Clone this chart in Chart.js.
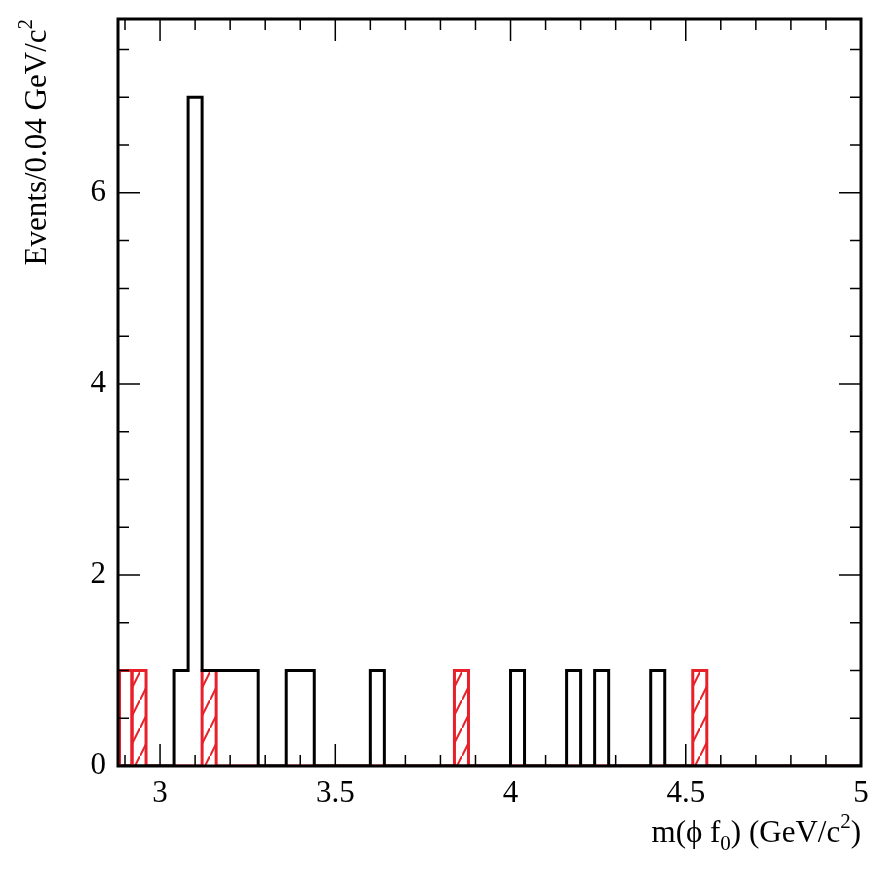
<!DOCTYPE html>
<html><head><meta charset="utf-8">
<script src="https://cdn.jsdelivr.net/npm/chart.js@4"></script>
<style>html,body{margin:0;padding:0;background:#fff}#w{width:885px;height:885px}</style>
</head><body><div id="w"><canvas id="c"></canvas></div>
<script>
const xMin = 2.88, xMax = 5.0, binWidth = 0.04;
const blackBinStarts = [3.04, 3.08, 3.12, 3.16, 3.20, 3.24, 3.36, 3.40, 3.60, 4.00, 4.16, 4.24, 4.40];
const blackCounts    = [1,    7,    1,    1,    1,    1,    1,    1,    1,    1,    1,    1,    1];
const redBinStarts = [2.92, 3.12, 3.84, 4.52];
const redCounts    = [1,    1,    1,    1];
const redEdgeBinStarts = [2.88];
const redEdgeCounts = [1];
const yTicks = [0, 2, 4, 6];
const xTicks = [3, 3.5, 4, 4.5, 5];

function steps(starts, counts){
  const pts = [];
  const n = Math.round((xMax - xMin)/binWidth);
  for(let i=0;i<n;i++){
    const lo = Math.round((xMin + i*binWidth)*100)/100;
    const hi = Math.round((lo + binWidth)*100)/100;
    let y = 0;
    for(let k=0;k<starts.length;k++){ if(Math.abs(starts[k]-lo)<1e-6) y = counts[k]; }
    pts.push({x:lo, y:y}); pts.push({x:hi, y:y});
  }
  return pts;
}
function hatch(){
  const p=document.createElement('canvas'); p.width=14; p.height=28;
  const g=p.getContext('2d'); g.strokeStyle='#e8202a'; g.lineWidth=2;
  g.beginPath(); g.moveTo(0,28); g.lineTo(14,0); g.stroke();
  return g.createPattern(p,'repeat');
}
const serif = "'Liberation Serif', 'DejaVu Serif', serif";
const frame = {
  id:'frame',
  afterDatasetsDraw(ch){
    const c=ch.ctx, xs=ch.scales.x, ys=ch.scales.y;
    c.save(); c.strokeStyle='#e8202a'; c.lineWidth=3;
    redEdgeBinStarts.forEach((s,i)=>{
      const x0=xs.getPixelForValue(s), x1=xs.getPixelForValue(s+binWidth);
      const y0=ys.getPixelForValue(0), y1=ys.getPixelForValue(redEdgeCounts[i]);
      c.beginPath(); c.moveTo(x0+1.5,y0); c.lineTo(x0+1.5,y1); c.lineTo(x1,y1); c.lineTo(x1,y0); c.stroke();
    });
    c.restore();
  },
  afterDraw(ch){
    const c=ch.ctx, a=ch.chartArea, xs=ch.scales.x, ys=ch.scales.y;
    c.save(); c.strokeStyle='#000'; c.lineWidth=1.5;
    c.beginPath();
    for(let v=2.9; v<=5.0001; v+=0.1){
      const px=xs.getPixelForValue(v);
      const major=Math.abs(v*2-Math.round(v*2))<1e-6;
      const L=major?22:11;
      c.moveTo(px,a.bottom); c.lineTo(px,a.bottom-L);
      c.moveTo(px,a.top); c.lineTo(px,a.top+L);
    }
    for(let v=0; v<=7.8; v+=0.5){
      const py=ys.getPixelForValue(v);
      const major=Math.abs(v/2-Math.round(v/2))<1e-6;
      const L=major?22:11;
      c.moveTo(a.left,py); c.lineTo(a.left+L,py);
      c.moveTo(a.right,py); c.lineTo(a.right-L,py);
    }
    c.stroke();
    c.lineWidth=3; c.strokeRect(a.left,a.top,a.right-a.left,a.bottom-a.top);
    c.fillStyle='#000'; c.font='31px '+serif;
    c.textAlign='center'; c.textBaseline='top';
    xTicks.forEach(v=>c.fillText(String(v), xs.getPixelForValue(v), a.bottom+12));
    c.textAlign='right'; c.textBaseline='middle';
    yTicks.forEach(v=>c.fillText(String(v), a.left-12, ys.getPixelForValue(v)));
    const parts=[['m(\u03d5 f',0],['0',1],[') (GeV/c',0],['2',-1],[')',0]];
    const big='31px '+serif, small='21px '+serif;
    let w=0; parts.forEach(p=>{c.font=p[1]?small:big; w+=c.measureText(p[0]).width;});
    let x=a.right-w, yb=842; c.textAlign='left'; c.textBaseline='alphabetic';
    parts.forEach(p=>{c.font=p[1]?small:big; c.fillText(p[0],x,yb+(p[1]==1?8:p[1]==-1?-14:0)); x+=c.measureText(p[0]).width;});
    c.translate(46,a.top); c.rotate(-Math.PI/2);
    const yp=[['Events/0.04 GeV/c',0],['2',-1]];
    w=0; yp.forEach(p=>{c.font=p[1]?small:big; w+=c.measureText(p[0]).width;});
    x=-w; yp.forEach(p=>{c.font=p[1]?small:big; c.fillText(p[0],x,p[1]?-14:0); x+=c.measureText(p[0]).width;});
    c.restore();
  }
};
new Chart(document.getElementById('c'),{
  type:'line',
  data:{datasets:[
    {label:'data', order:1, data:steps(blackBinStarts,blackCounts), borderColor:'#000', borderWidth:3, pointRadius:0, tension:0, fill:false},
    {label:'bkg', order:2, data:steps(redBinStarts,redCounts), borderColor:'#e8202a', borderWidth:3, pointRadius:0, tension:0, fill:'origin', backgroundColor:hatch()}
  ]},
  options:{
    responsive:true, maintainAspectRatio:false, animation:false,
    layout:{padding:{top:19,right:24,left:0,bottom:0}},
    plugins:{legend:{display:false},tooltip:{enabled:false}},
    scales:{
      x:{type:'linear',min:xMin,max:xMax,grid:{display:false},border:{display:false},ticks:{display:false},afterFit(s){s.height=119;}},
      y:{min:0,max:7.82,grid:{display:false},border:{display:false},ticks:{display:false},afterFit(s){s.width=118;}}
    }
  },
  plugins:[frame]
});
</script></body></html>
